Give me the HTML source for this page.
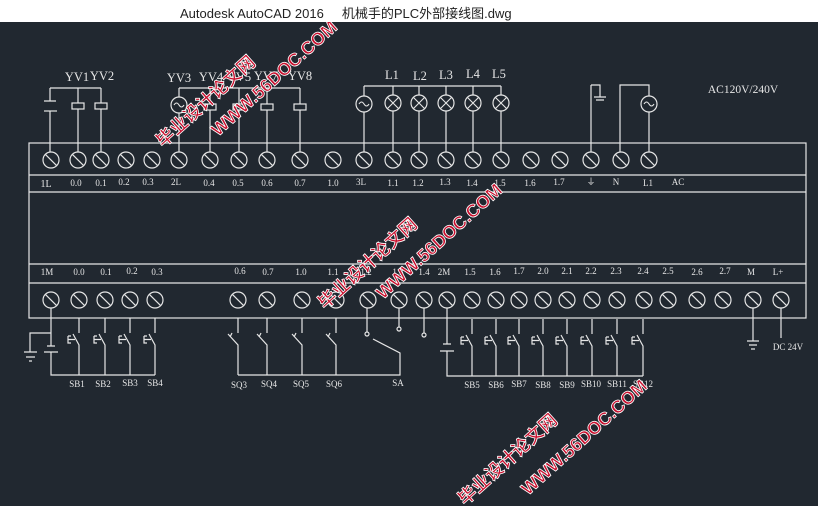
<!DOCTYPE html>
<html><head><meta charset="utf-8"><style>
html,body{margin:0;padding:0;width:818px;height:506px;overflow:hidden;background:#212830}
.t{position:absolute;left:0;top:0;width:818px;height:22px;background:#fff;font:13px "Liberation Sans","Noto Sans CJK SC",sans-serif;color:#222;}
.t span{position:absolute;left:180px;top:3px}
svg{position:absolute;left:0;top:0}
</style></head><body>
<svg width="818" height="506" viewBox="0 0 818 506">
<defs>
<g id="term"><circle cx="0" cy="0" r="8" fill="none" stroke="#e6e6e6" stroke-width="1.2"/><line x1="-5.6" y1="-5.6" x2="5.6" y2="5.6" stroke="#e6e6e6" stroke-width="1.2"/></g>
<g id="ac"><circle cx="0" cy="0" r="8" fill="none" stroke="#e6e6e6" stroke-width="1.2"/><path d="M-5 0 Q-2.5 -4 0 0 T5 0" fill="none" stroke="#e6e6e6" stroke-width="1.1"/></g>
<g id="lamp"><circle cx="0" cy="0" r="8" fill="none" stroke="#e6e6e6" stroke-width="1.2"/><path d="M-5.6 -5.6L5.6 5.6M5.6 -5.6L-5.6 5.6" stroke="#e6e6e6" stroke-width="1.1"/></g>
<g id="pb" fill="none" stroke="#e6e6e6" stroke-width="1.2"><path d="M0 -15V0M-6 1L0 12V42M-11 3H-8M-11 3V10H-8M-11 6.5H-4"/></g>
<g id="sq" fill="none" stroke="#e6e6e6" stroke-width="1.2"><path d="M0 -15V0M-10 1L0 12V42M-6 0L-8 4"/></g>
<g id="gnd" stroke="#e6e6e6" stroke-width="1.2"><path d="M-6 0H6M-4 4H4M-2 8H2"/></g>
</defs>
<g fill="none" stroke="#e6e6e6" stroke-width="1.2">
<rect x="29" y="143" width="777" height="175"/>
<line x1="29" y1="175" x2="806" y2="175"/><line x1="29" y1="192" x2="806" y2="192"/>
<line x1="29" y1="264" x2="806" y2="264"/><line x1="29" y1="283" x2="806" y2="283"/>
<path d="M50 88H101M50 88V101M50 111V152M44 101H56"/>
<line x1="44" y1="111" x2="57" y2="111"/>
<path d="M78 88V103M78 109V152M101 88V103M101 109V152"/>
<rect x="72" y="103" width="12" height="6"/><rect x="95" y="103" width="12" height="6"/>
<path d="M179 88H300M179 88V97M179 113V152M210 88V104M210 110V152M239 88V104M239 110V152M267 88V104M267 110V152M300 88V104M300 110V152"/>
<rect x="204" y="104" width="12" height="6"/><rect x="233" y="104" width="12" height="6"/><rect x="261" y="104" width="12" height="6"/><rect x="294" y="104" width="12" height="6"/>
<path d="M364 86H501M364 86V96M364 112V152M393 86V95M393 111V152M419 86V95M419 111V152M446 86V95M446 111V152M473 86V95M473 111V152M501 86V95M501 111V152"/>
<path d="M591 85H600V97M591 85V152M594 97H606M596 100H604"/>
<path d="M620 152V85H649V96M649 112V152"/>
<path d="M51 308V346M47 346H55M44 352H58M51 352V375H155M51 333H30V352M24 352H37M26 357H35M29 361H32"/>
<path d="M238 375H400V353L373 339M367 308V332M399 308V327"/>
<circle cx="367" cy="334" r="2"/><circle cx="399" cy="329" r="2"/>
<path d="M424 308V333"/><circle cx="424" cy="335" r="2"/>
<path d="M447 308V344M443 344H451M440 351H454M447 351V376H643"/>
<path d="M753 308V341M781 308V338"/>
</g>
<use href="#gnd" x="753" y="341"/>
<use href="#ac" x="179" y="105"/><use href="#ac" x="364" y="104"/><use href="#ac" x="649" y="104"/>
<use href="#lamp" x="393" y="103"/><use href="#lamp" x="419" y="103"/><use href="#lamp" x="446" y="103"/><use href="#lamp" x="473" y="103"/><use href="#lamp" x="501" y="103"/>
<g>
<use href="#term" x="51" y="160"/><use href="#term" x="78" y="160"/><use href="#term" x="101" y="160"/><use href="#term" x="126" y="160"/><use href="#term" x="152" y="160"/><use href="#term" x="179" y="160"/><use href="#term" x="210" y="160"/><use href="#term" x="239" y="160"/><use href="#term" x="267" y="160"/><use href="#term" x="300" y="160"/><use href="#term" x="333" y="160"/><use href="#term" x="364" y="160"/><use href="#term" x="393" y="160"/><use href="#term" x="419" y="160"/><use href="#term" x="446" y="160"/><use href="#term" x="473" y="160"/><use href="#term" x="501" y="160"/><use href="#term" x="531" y="160"/><use href="#term" x="560" y="160"/><use href="#term" x="591" y="160"/><use href="#term" x="621" y="160"/><use href="#term" x="649" y="160"/>
</g>
<g>
<use href="#term" x="51" y="300"/><use href="#term" x="79" y="300"/><use href="#term" x="105" y="300"/><use href="#term" x="130" y="300"/><use href="#term" x="155" y="300"/><use href="#term" x="238" y="300"/><use href="#term" x="267" y="300"/><use href="#term" x="302" y="300"/><use href="#term" x="336" y="300"/><use href="#term" x="368" y="300"/><use href="#term" x="399" y="300"/><use href="#term" x="424" y="300"/><use href="#term" x="447" y="300"/><use href="#term" x="472" y="300"/><use href="#term" x="496" y="300"/><use href="#term" x="519" y="300"/><use href="#term" x="543" y="300"/><use href="#term" x="567" y="300"/><use href="#term" x="592" y="300"/><use href="#term" x="617" y="300"/><use href="#term" x="644" y="300"/><use href="#term" x="668" y="300"/><use href="#term" x="697" y="300"/><use href="#term" x="723" y="300"/><use href="#term" x="753" y="300"/><use href="#term" x="781" y="300"/>
</g>
<use href="#pb" x="79" y="333"/><use href="#pb" x="105" y="333"/><use href="#pb" x="130" y="333"/><use href="#pb" x="155" y="333"/>
<use href="#sq" x="238" y="333"/><use href="#sq" x="267" y="333"/><use href="#sq" x="302" y="333"/><use href="#sq" x="336" y="333"/>
<use href="#pb" x="472" y="334"/><use href="#pb" x="496" y="334"/><use href="#pb" x="519" y="334"/><use href="#pb" x="543" y="334"/><use href="#pb" x="567" y="334"/><use href="#pb" x="592" y="334"/><use href="#pb" x="617" y="334"/><use href="#pb" x="643" y="334"/>
<g fill="#e6e6e6" font-family="Liberation Serif, serif" font-size="12.5" text-anchor="middle">
<text x="77" y="81">YV1</text><text x="102" y="80">YV2</text><text x="179" y="82">YV3</text><text x="211" y="81">YV4</text><text x="239" y="81">YV5</text><text x="266" y="80">YV7</text><text x="300" y="80">YV8</text>
<text x="392" y="79">L1</text><text x="420" y="80">L2</text><text x="446" y="79">L3</text><text x="473" y="78">L4</text><text x="499" y="78">L5</text>
<text x="743" y="93" font-size="11.5">AC120V/240V</text>
</g>
<g fill="#e6e6e6" font-family="Liberation Serif, serif" font-size="9" text-anchor="middle">
<text x="46" y="187" font-size="10">1L</text><text x="76" y="186">0.0</text><text x="101" y="186">0.1</text><text x="124" y="185">0.2</text><text x="148" y="185">0.3</text><text x="176" y="185">2L</text><text x="209" y="186">0.4</text><text x="238" y="186">0.5</text><text x="267" y="186">0.6</text><text x="300" y="186">0.7</text><text x="333" y="186">1.0</text><text x="361" y="185">3L</text><text x="393" y="186">1.1</text><text x="418" y="186">1.2</text><text x="445" y="185">1.3</text><text x="472" y="186">1.4</text><text x="500" y="186">1.5</text><text x="530" y="186">1.6</text><text x="559" y="185">1.7</text><text x="591" y="185">⏚</text><text x="616" y="185">N</text><text x="648" y="186">L1</text><text x="678" y="185">AC</text>
<text x="47" y="275">1M</text><text x="79" y="275">0.0</text><text x="106" y="275">0.1</text><text x="132" y="274">0.2</text><text x="157" y="275">0.3</text><text x="240" y="274">0.6</text><text x="268" y="275">0.7</text><text x="301" y="275">1.0</text><text x="333" y="275">1.1</text><text x="366" y="275">1.2</text><text x="398" y="275">1.3</text><text x="424" y="275">1.4</text><text x="444" y="275">2M</text><text x="470" y="275">1.5</text><text x="495" y="275">1.6</text><text x="519" y="274">1.7</text><text x="543" y="274">2.0</text><text x="567" y="274">2.1</text><text x="591" y="274">2.2</text><text x="616" y="274">2.3</text><text x="643" y="274">2.4</text><text x="668" y="274">2.5</text><text x="697" y="275">2.6</text><text x="725" y="274">2.7</text><text x="751" y="275">M</text><text x="778" y="275">L+</text>
<text x="77" y="387">SB1</text><text x="103" y="387">SB2</text><text x="130" y="386">SB3</text><text x="155" y="386">SB4</text>
<text x="239" y="388">SQ3</text><text x="269" y="387">SQ4</text><text x="301" y="387">SQ5</text><text x="334" y="387">SQ6</text><text x="398" y="386">SA</text>
<text x="472" y="388">SB5</text><text x="496" y="388">SB6</text><text x="519" y="387">SB7</text><text x="543" y="388">SB8</text><text x="567" y="388">SB9</text><text x="591" y="387">SB10</text><text x="617" y="387">SB11</text><text x="643" y="387">SB12</text>
<text x="788" y="350">DC 24V</text>
</g>
<g font-family="Liberation Sans, 'Noto Sans CJK SC', sans-serif" font-weight="bold" fill="#c8102e" stroke="#fff" stroke-width="0.8" font-size="18">
<text transform="translate(163,148) rotate(-42)">毕业设计论文网</text>
<text transform="translate(218,137) rotate(-42)">WWW.56DOC.COM</text>
<text transform="translate(325,310) rotate(-42)">毕业设计论文网</text>
<text transform="translate(383,300) rotate(-42)">WWW.56DOC.COM</text>
<text transform="translate(465,506) rotate(-42)">毕业设计论文网</text>
<text transform="translate(528,496) rotate(-42)">WWW.56DOC.COM</text>
</g>
</svg>
<div class="t"><span>Autodesk AutoCAD 2016&nbsp;&nbsp;&nbsp;&nbsp; 机械手的PLC外部接线图.dwg</span></div>
</body></html>
